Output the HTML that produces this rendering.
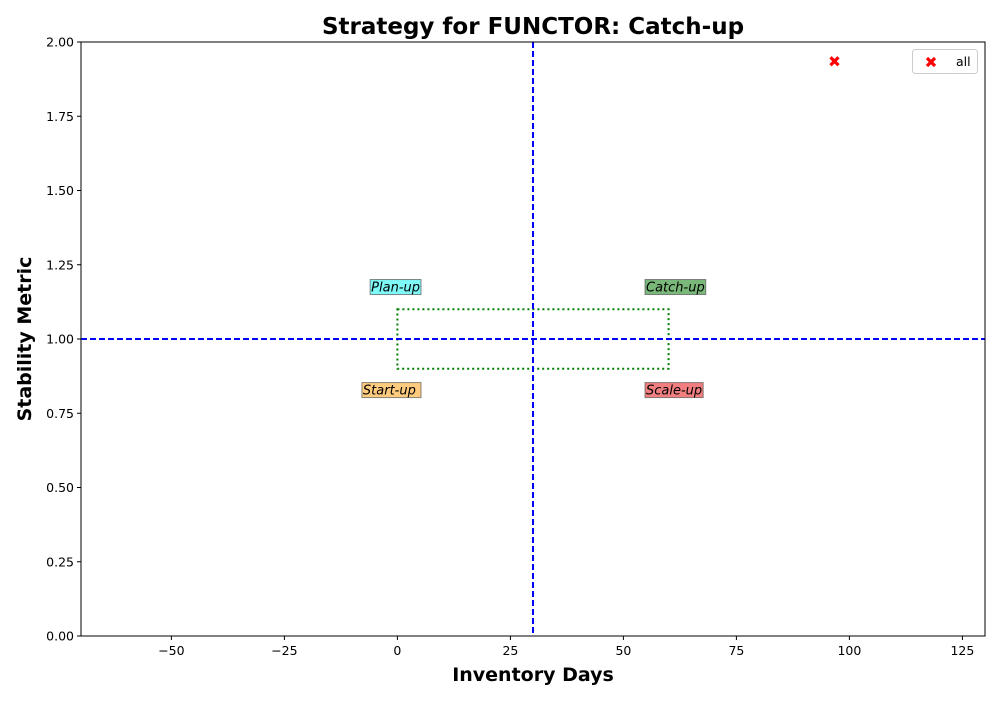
<!DOCTYPE html>
<html><head><meta charset="utf-8"><style>
body{margin:0;background:#fff}
svg{font-family:"DejaVu Sans","Liberation Sans",sans-serif}
</style></head><body>
<svg id="c" width="1000" height="700" xmlns="http://www.w3.org/2000/svg"></svg>
<script>
const xTicks=[-50,-25,0,25,50,75,100,125];
const yTicks=[0,0.25,0.5,0.75,1.0,1.25,1.5,1.75,2.0];
const pointX=[96.7];
const pointY=[1.935];
const vLine=30, hLine=1.0;
const boxX=[0,60], boxY=[0.9,1.1];
const quadNames=["Plan-up","Catch-up","Start-up ","Scale-up"];
const quadX=[5,55,5,55];
const quadY=[1.175,1.175,0.828,0.828];
const quadAlign=["end","start","end","start"];
const quadColors=["#7ff8f8","#7ab87a","#ffcc7f","#f27f7f"];
const L=81,R=985,T=42,B=636,X0=-70,X1=130,Y0=0,Y1=2;
const sx=v=>L+(v-X0)/(X1-X0)*(R-L), sy=v=>B-(v-Y0)/(Y1-Y0)*(B-T);
const svg=document.getElementById('c'),NS="http://www.w3.org/2000/svg";
function mk(t,a,txt){const e=document.createElementNS(NS,t);for(const k in a)e.setAttribute(k,a[k]);if(txt!=null)e.textContent=txt;svg.appendChild(e);return e;}
let e;
e=mk('text',{x:533,y:34,'text-anchor':'middle','font-size':23,'font-weight':'bold'},'Strategy for FUNCTOR: Catch-up');

xTicks.forEach(v=>{const x=sx(v);
 e=mk('line',{x1:x,x2:x,y1:B,y2:B+4,stroke:'#000'});
 e=mk('text',{x:x,y:B+19,'text-anchor':'middle','font-size':12.5},(v<0?'\u2212'+(-v):v));});
yTicks.forEach(v=>{const y=sy(v);
 e=mk('line',{x1:L-4,x2:L,y1:y,y2:y,stroke:'#000'});
 e=mk('text',{x:L-7,y:y+4.5,'text-anchor':'end','font-size':12.5},v.toFixed(2));});
e=mk('text',{x:533,y:681,'text-anchor':'middle','font-size':19,'font-weight':'bold'},'Inventory Days');
e=mk('text',{x:31,y:339,'text-anchor':'middle','font-size':19,'font-weight':'bold',transform:'rotate(-90 31 339)'},'Stability Metric');
e=mk('rect',{x:sx(boxX[0]),y:sy(boxY[1]),width:sx(boxX[1])-sx(boxX[0]),height:sy(boxY[0])-sy(boxY[1]),fill:'none',stroke:'green','stroke-width':2,'stroke-dasharray':'2,3'});

e=mk('line',{x1:sx(vLine),x2:sx(vLine),y1:T,y2:B,stroke:'blue','stroke-width':2,'stroke-dasharray':'6,3'});
e=mk('line',{x1:L,x2:R,y1:sy(hLine),y2:sy(hLine),stroke:'blue','stroke-width':2,'stroke-dasharray':'6,3'});
quadNames.forEach((n,i)=>{const x=sx(quadX[i]),y=sy(quadY[i]);
 const t=mk('text',{x:x,y:y+4.5,'text-anchor':quadAlign[i],'font-size':13,'font-style':'italic','xml:space':'preserve'},n);
 t.style.whiteSpace='pre';
 const bb=t.getBBox();
 const r=mk('rect',{x:bb.x-1,y:y-7.5,width:bb.width+2,height:15,fill:quadColors[i],stroke:'#555','stroke-opacity':0.7});
 
 svg.appendChild(t);});
function cross(x,y){const g=mk('path',{d:`M${x-4},${y-4}L${x+4},${y+4}M${x+4},${y-4}L${x-4},${y+4}`,stroke:'red','stroke-width':3.2});return g;}
pointX.forEach((v,i)=>{e=cross(sx(v),sy(pointY[i]));});
e=mk('rect',{x:L,y:T,width:R-L,height:B-T,fill:'none',stroke:'#000','stroke-width':1});
e=mk('rect',{x:912.5,y:49.5,width:65,height:24,rx:3,fill:'#fff',stroke:'#ccc'});
e=cross(931,62);
e=mk('text',{x:956,y:66,'font-size':12.5},'all');
</script>
</body></html>
